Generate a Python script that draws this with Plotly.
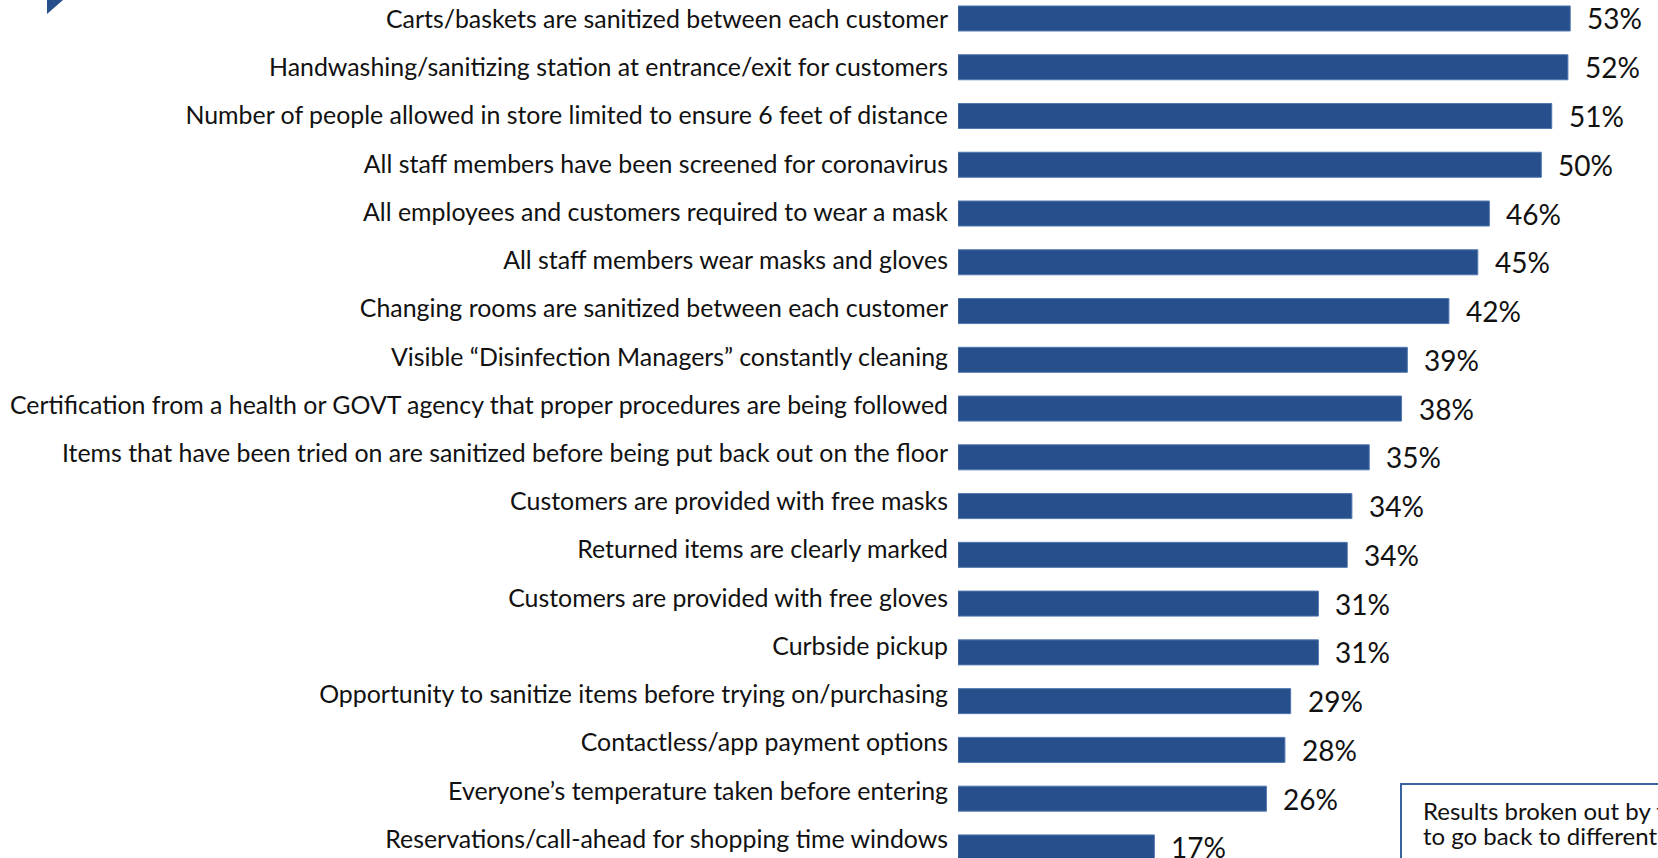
import plotly.graph_objects as go

categories = [
    "Carts/baskets are sanitized between each customer",
    "Handwashing/sanitizing station at entrance/exit for customers",
    "Number of people allowed in store limited to ensure 6 feet of distance",
    "All staff members have been screened for coronavirus",
    "All employees and customers required to wear a mask",
    "All staff members wear masks and gloves",
    "Changing rooms are sanitized between each customer",
    "Visible \u201cDisinfection Managers\u201d constantly cleaning",
    "Certification from a health or GOVT agency that proper procedures are being followed",
    "Items that have been tried on are sanitized before being put back out on the floor",
    "Customers are provided with free masks",
    "Returned items are clearly marked",
    "Customers are provided with free gloves",
    "Curbside pickup",
    "Opportunity to sanitize items before trying on/purchasing",
    "Contactless/app payment options",
    "Everyone\u2019s temperature taken before entering",
    "Reservations/call-ahead for shopping time windows",
]
values = [53.0, 52.8, 51.4, 50.5, 46.0, 45.0, 42.5, 38.9, 38.4, 35.6, 34.1, 33.7, 31.2, 31.2, 28.8, 28.3, 26.7, 17.0]
labels = ["53%", "52%", "51%", "50%", "46%", "45%", "42%", "39%", "38%", "35%",
          "34%", "34%", "31%", "31%", "29%", "28%", "26%", "17%"]
note_lines = ["Results broken out by those who plan", "to go back to different stores"]

W, H = 1658, 858
L = 958
PW = W - L
BAR = "#264F8C"
FONT = "Lato"
TICKFONT = dict(family=FONT, size=24.9, color="#111111")


def px(x):
    return (x - L) / PW


def py(y):
    return 1 - y / H


fig = go.Figure()
fig.add_trace(go.Bar(
    x=values, y=categories, orientation="h",
    marker=dict(color=BAR, line=dict(color="#5277B0", width=1)),
    hoverinfo="skip",
))
# invisible companion trace carrying the category labels (slightly tighter row pitch, as in the slide)
fig.add_trace(go.Scatter(
    x=values, y=categories, yaxis="y2", mode="markers",
    marker=dict(opacity=0, size=1), hoverinfo="skip", showlegend=False,
))

for c, v, t in zip(categories, values, labels):
    fig.add_annotation(x=v, y=c, xref="x", yref="y", text=t, showarrow=False,
                       xanchor="left", yanchor="middle", xshift=15, yshift=0,
                       font=dict(family=FONT, size=28, color="#111111"))

# decorative corner fragment and side note box
fig.add_shape(type="path", xref="paper", yref="paper",
              path=f"M {px(47)} 1 L {px(63)} 1 L {px(47)} {py(14)} Z",
              fillcolor=BAR, line=dict(width=0))
fig.add_shape(type="rect", xref="paper", yref="paper",
              x0=px(1401), x1=px(1700), y0=py(900), y1=py(784),
              line=dict(color="#3A63A1", width=2), fillcolor="rgba(0,0,0,0)")
for i, line in enumerate(note_lines):
    fig.add_annotation(x=px(1421), y=py(810 + 25 * i), xref="paper", yref="paper",
                       text=line, showarrow=False, xanchor="left", yanchor="middle",
                       font=dict(family=FONT, size=24, color="#111111"))

fig.update_layout(
    width=W, height=H,
    margin=dict(l=L, r=0, t=0, b=0, autoexpand=False),
    paper_bgcolor="white", plot_bgcolor="white",
    bargap=0.487,
    showlegend=False,
    xaxis=dict(range=[0, 60.6], visible=False, fixedrange=True, automargin=False),
    yaxis=dict(range=[17.217, -0.379], categoryorder="array", categoryarray=categories,
               showgrid=False, zeroline=False, showline=False, ticks="",
               showticklabels=False, automargin=False),
    yaxis2=dict(range=[17.393, -0.4002], categoryorder="array", categoryarray=categories,
                overlaying="y", side="left", anchor="x",
                showgrid=False, zeroline=False, showline=False, ticks="",
                ticklabelstandoff=9, automargin=False, tickfont=TICKFONT),
)

fig.write_html("out.html")
